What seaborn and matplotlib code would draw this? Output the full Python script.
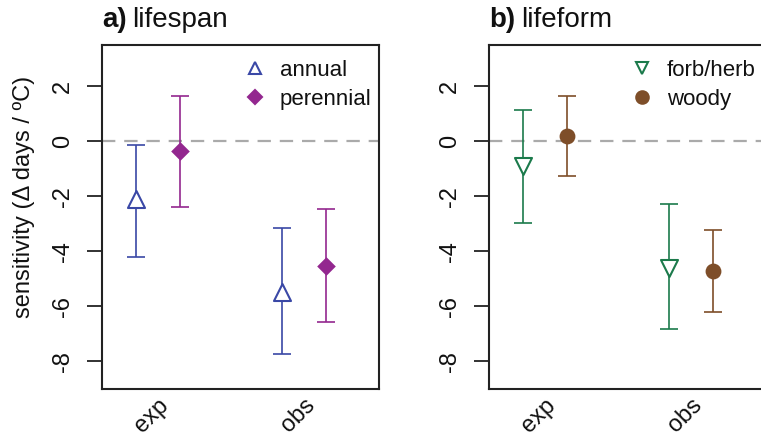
import numpy as np
import pandas as pd
import matplotlib
matplotlib.use("Agg")
import matplotlib.pyplot as plt
from matplotlib.lines import Line2D
import seaborn as sns

# ---- data ----
categories = ["exp", "obs"]

annual_mean = [-2.10, -5.47]
annual_lo = [-4.21, -7.73]
annual_hi = [-0.12, -3.16]

perennial_mean = [-0.36, -4.53]
perennial_lo = [-2.37, -6.58]
perennial_hi = [1.66, -2.47]

forb_mean = [-0.90, -4.62]
forb_lo = [-2.95, -6.83]
forb_hi = [1.14, -2.29]

woody_mean = [0.21, -4.72]
woody_lo = [-1.26, -6.22]
woody_hi = [1.66, -3.21]

yticks = [2, 0, -2, -4, -6, -8]

sns.set_theme(style="ticks")
plt.rcParams["font.family"] = ["Liberation Sans", "DejaVu Sans"]
for key in ["text.color", "axes.labelcolor", "xtick.color", "ytick.color"]:
    plt.rcParams[key] = "#111111"

fig = plt.figure(figsize=(7.61, 4.38), dpi=100)
axA = fig.add_axes([0.134, 0.112, 0.364, 0.785])
axB = fig.add_axes([0.6426, 0.112, 0.364, 0.785])

panels = [
    (axA, "a)", "lifespan",
     [("annual", annual_mean, annual_lo, annual_hi, "#3A48A6", "^", False, 150),
      ("perennial", perennial_mean, perennial_lo, perennial_hi, "#93278F", "D", True, 90)]),
    (axB, "b)", "lifeform",
     [("forb/herb", forb_mean, forb_lo, forb_hi, "#1B7A4B", "v", False, 150),
      ("woody", woody_mean, woody_lo, woody_hi, "#7E4E29", "o", True, 130)]),
]

offsets = [-0.15, 0.15]
base = np.arange(1, len(categories) + 1)

title_parts = []
for ax, tag, title, series in panels:
    ax.axhline(0, color="#AAAAAA", lw=1.6, ls=(0, (6, 4)), zorder=1)
    handles = []
    for (name, mean, lo, hi, col, mk, filled, s), off in zip(series, offsets):
        df = pd.DataFrame({"x": base + off, "y": mean, "lo": lo, "hi": hi})
        ax.errorbar(df["x"], df["y"], yerr=[df["y"] - df["lo"], df["hi"] - df["y"]],
                    fmt="none", ecolor=col, elinewidth=1.2, capsize=6.5,
                    capthick=1.2, zorder=2)
        if filled:
            sns.scatterplot(data=df, x="x", y="y", ax=ax, marker=mk, s=s,
                            color=col, edgecolor=col, linewidth=0, zorder=3)
        else:
            sns.scatterplot(data=df, x="x", y="y", ax=ax, marker=mk, s=s,
                            facecolor="white", edgecolor=col, linewidth=1.5,
                            zorder=3)
        handles.append(Line2D([], [], ls="none", marker=mk,
                              markersize=9 if mk != "D" else 7.5,
                              markerfacecolor=col if filled else "none",
                              markeredgecolor=col, markeredgewidth=1.5,
                              label=name))
    ax.set_xlim(0.62, 2.51)
    ax.set_ylim(-9.0, 3.5)
    ax.set_xticks(base)
    ax.set_xticklabels(categories, rotation=45, ha="right",
                       rotation_mode="anchor", fontsize=17)
    ax.tick_params(axis="x", length=0, pad=4)
    ax.set_yticks(yticks)
    ax.set_yticklabels([str(t) for t in yticks], rotation=90, va="center",
                       fontsize=17)
    ax.tick_params(axis="y", length=11, width=1.3, pad=9, color="#222222")
    ax.set_xlabel("")
    ax.set_ylabel("")
    for sp in ax.spines.values():
        sp.set_linewidth(1.5)
        sp.set_color("#222222")
    t1 = ax.text(0.0, 1.052, tag, transform=ax.transAxes, fontsize=20,
                 fontweight="bold", ha="left", va="baseline")
    title_parts.append((ax, t1, title))
    ax.legend(handles=handles, loc="upper left",
              bbox_to_anchor=(0.445, 1.005), frameon=False, fontsize=16,
              handlelength=1.2, handletextpad=0.5, labelspacing=0.35,
              borderaxespad=0.35)
    ax.grid(False)

axA.set_ylabel("sensitivity (\u0394 days / \u00baC)", fontsize=17, labelpad=8)
axA.yaxis.set_label_coords(-0.24, 0.558)

fig.canvas.draw()
renderer = fig.canvas.get_renderer()
for ax, t1, title in title_parts:
    bb = t1.get_window_extent(renderer)
    x_ax = ax.transAxes.inverted().transform((bb.x1 + 6, bb.y0))[0]
    ax.text(x_ax, 1.052, title, transform=ax.transAxes, fontsize=20,
            ha="left", va="baseline")

fig.savefig("out.png", dpi=100, facecolor="white")
